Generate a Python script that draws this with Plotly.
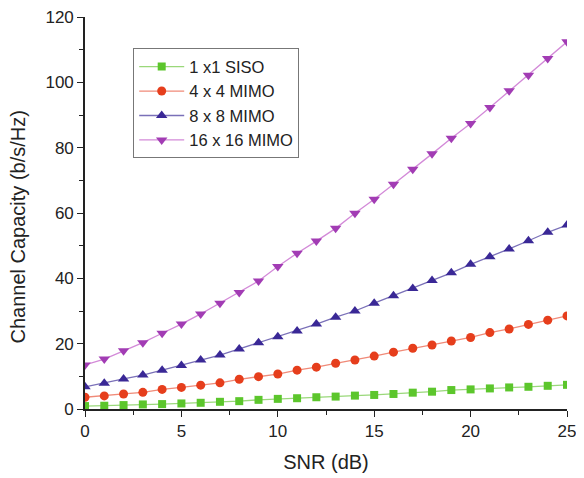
import plotly.graph_objects as go

snr_db = list(range(0, 26))

siso_1x1 = [0.9, 1.0, 1.2, 1.4, 1.5, 1.7, 1.9, 2.2, 2.4, 2.8, 3.1, 3.3, 3.6,
            3.8, 4.1, 4.3, 4.6, 5.0, 5.3, 5.8, 6.0, 6.3, 6.6, 6.8, 7.1, 7.4]
mimo_4x4 = [3.6, 4.0, 4.6, 5.1, 6.0, 6.6, 7.3, 8.0, 9.1, 9.9, 10.7, 11.9, 12.8,
            14.0, 15.0, 16.2, 17.4, 18.6, 19.6, 20.8, 21.9, 23.4, 24.5, 25.9, 27.2, 28.5]
mimo_8x8 = [6.8, 7.9, 9.2, 10.4, 11.9, 13.3, 15.0, 16.5, 18.4, 20.3, 22.1, 23.9, 26.0,
            28.1, 30.0, 32.4, 34.7, 36.9, 39.3, 41.7, 44.3, 46.6, 49.0, 51.5, 54.1, 56.3]
mimo_16x16 = [13.5, 15.3, 17.8, 20.3, 23.2, 26.0, 29.1, 32.4, 35.7, 39.2, 43.6, 47.7, 51.4,
              55.3, 59.9, 64.2, 68.8, 73.4, 78.1, 82.9, 87.4, 92.3, 97.4, 102.2, 107.3, 112.4]

series = [
    ("1 x1 SISO", siso_1x1, "square", 8, "#5cc62c", "#9ad87a"),
    ("4 x 4 MIMO", mimo_4x4, "circle", 9, "#e63e1c", "#f08a78"),
    ("8 x 8 MIMO", mimo_8x8, "triangle-up", 10, "#3a2896", "#7a70b8"),
    ("16 x 16 MIMO", mimo_16x16, "triangle-down", 10, "#a23cb4", "#d38ad8"),
]

fig = go.Figure()
for name, vals, sym, msize, mcol, lcol in series:
    fig.add_trace(go.Scatter(
        x=snr_db, y=vals, name=name, mode="lines+markers",
        line=dict(color=lcol, width=1.3),
        marker=dict(symbol=sym, size=msize, color=mcol, line=dict(width=0)),
    ))

font_family = "Liberation Sans, Arial, sans-serif"
ink = "#222"
fig.update_layout(
    width=576, height=470,
    margin=dict(l=77, r=17, t=9, b=69, autoexpand=False),
    paper_bgcolor="white", plot_bgcolor="white",
    font=dict(family=font_family, size=17, color=ink),
    showlegend=True,
    legend=dict(x=0.1, y=0.92, xanchor="left", yanchor="top",
                bgcolor="white", bordercolor="#777", borderwidth=1,
                font=dict(size=16.5, color=ink), tracegroupgap=0,
                itemwidth=45),
    xaxis=dict(range=[0, 25], dtick=5, tick0=0, ticks="outside", ticklen=6,
               tickwidth=1.3, tickcolor=ink, automargin=False,
               ticklabeloverflow="allow",
               minor=dict(dtick=2.5, ticks="outside", ticklen=4, tickcolor=ink, tickwidth=1.3),
               showline=True, linecolor=ink, linewidth=1.6, showgrid=False,
               zeroline=False, title=dict(text="SNR (dB)", font=dict(size=20)),
               tickfont=dict(size=17)),
    yaxis=dict(range=[0, 120], dtick=20, tick0=0, ticks="outside", ticklen=6,
               tickwidth=1.3, tickcolor=ink, automargin=False,
               ticklabeloverflow="allow",
               minor=dict(dtick=10, ticks="outside", ticklen=4, tickcolor=ink, tickwidth=1.3),
               showline=True, linecolor=ink, linewidth=1.6, showgrid=False,
               zeroline=False, tickfont=dict(size=17)),
    xaxis2=dict(overlaying="x", side="top", range=[0, 25], dtick=2.5, tick0=0,
                ticks="inside", ticklen=6, tickwidth=1.3, tickcolor=ink,
                showticklabels=False, showline=True, linecolor=ink, linewidth=1.6,
                showgrid=False, zeroline=False),
    yaxis2=dict(overlaying="y", side="right", range=[0, 120], dtick=12, tick0=0,
                ticks="inside", ticklen=6, tickwidth=1.3, tickcolor=ink,
                showticklabels=False, showline=True, linecolor=ink, linewidth=1.6,
                showgrid=False, zeroline=False),
    annotations=[dict(text="Channel Capacity (b/s/Hz)", textangle=-90,
                      xref="paper", yref="paper", x=-0.139, y=0.463,
                      xanchor="center", yanchor="middle", showarrow=False,
                      font=dict(size=20, color=ink))],
)

fig.write_html("out.html")
